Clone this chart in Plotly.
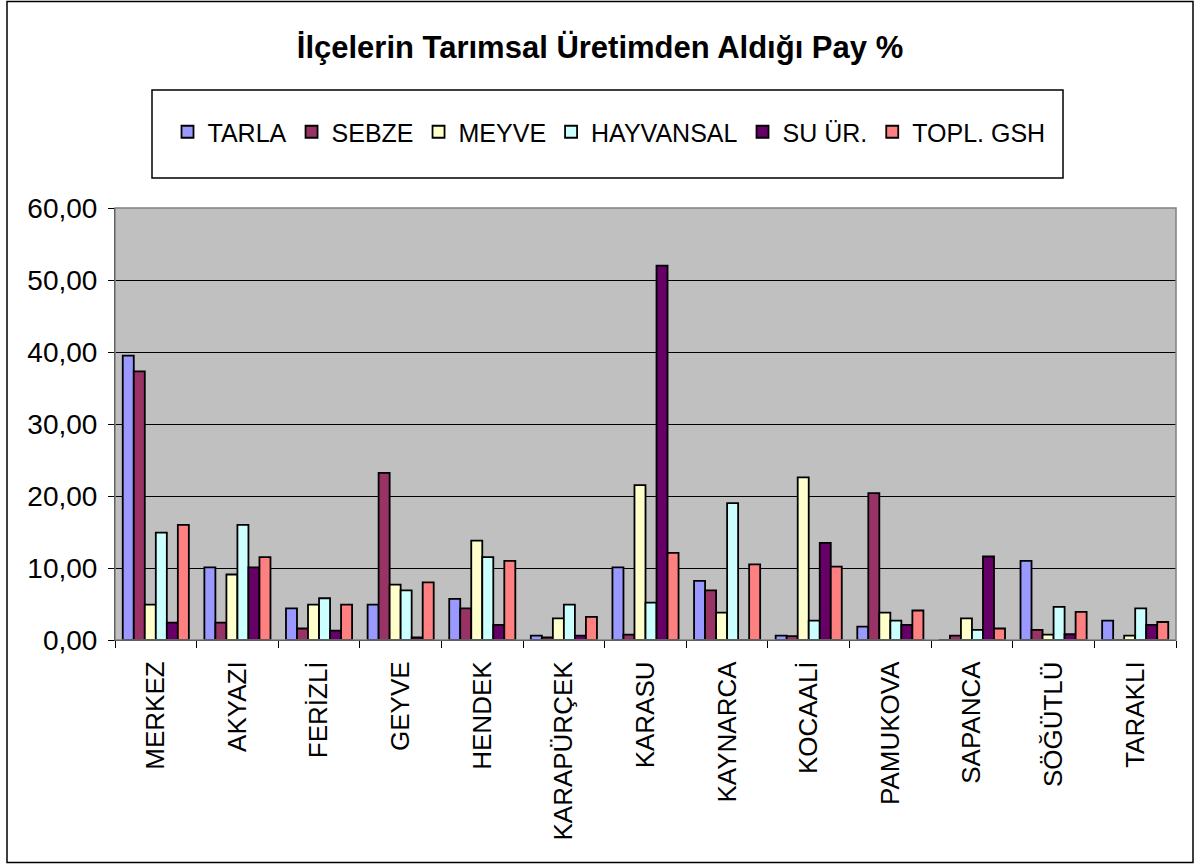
import plotly.graph_objects as go

districts = ["MERKEZ", "AKYAZI", "FERİZLİ", "GEYVE", "HENDEK", "KARAPÜRÇEK", "KARASU",
             "KAYNARCA", "KOCAALİ", "PAMUKOVA", "SAPANCA", "SÖĞÜTLÜ", "TARAKLI"]

tarla = [39.5, 10.1, 4.4, 4.9, 5.7, 0.6, 10.1, 8.2, 0.6, 1.85, 0.0, 11.0, 2.7]
sebze = [37.3, 2.4, 1.6, 23.2, 4.4, 0.35, 0.75, 6.9, 0.55, 20.4, 0.6, 1.4, 0.0]
meyve = [4.9, 9.1, 4.9, 7.7, 13.8, 3.0, 21.5, 3.8, 22.6, 3.8, 3.0, 0.75, 0.6]
hayvansal = [14.9, 16.0, 5.8, 6.9, 11.5, 4.9, 5.2, 19.0, 2.7, 2.7, 1.4, 4.6, 4.4]
su_urunleri = [2.4, 10.1, 1.3, 0.35, 2.1, 0.6, 52.0, 0.0, 13.5, 2.1, 11.6, 0.8, 2.1]
toplam_gsh = [16.0, 11.5, 4.9, 8.0, 11.0, 3.2, 12.1, 10.5, 10.2, 4.1, 1.6, 3.9, 2.5]

series_names = ["TARLA", "SEBZE", "MEYVE", "HAYVANSAL", "SU ÜR.", "TOPL. GSH"]
series_values = [tarla, sebze, meyve, hayvansal, su_urunleri, toplam_gsh]
colors = ["#9999FF", "#993366", "#FFFFCC", "#CCFFFF", "#660066", "#FF8080"]

FONT = "Arial, Liberation Sans, sans-serif"

# plot area in pixels (for placing the boxes drawn around it)
W, H = 1200, 864
L, R, T, B = 115, 1176, 208, 640


def px_x(x):
    return (x - L) / (R - L)


def px_y(y):
    return (B - y) / (B - T)


fig = go.Figure()
for name, vals, col in zip(series_names, series_values, colors):
    fig.add_trace(go.Bar(
        x=districts, y=vals, name=name,
        marker=dict(color=col, line=dict(color="black", width=1.8)),
    ))

fig.update_layout(
    width=W, height=H,
    margin=dict(l=L, r=W - R, t=T, b=H - B),
    paper_bgcolor="white",
    plot_bgcolor="#C0C0C0",
    barmode="group",
    bargap=0.19,
    bargroupgap=0,
    separators=",.",
    font=dict(family=FONT, color="black"),
    title=dict(
        text="<b>İlçelerin Tarımsal Üretimden Aldığı Pay %</b>",
        x=0.5, xref="container", xanchor="center",
        y=1 - 47 / H, yref="container", yanchor="middle",
        font=dict(size=31, family=FONT, color="black"),
    ),
    legend=dict(
        orientation="h",
        x=px_x(609), xanchor="center",
        y=px_y(132), yanchor="middle",
        font=dict(size=25, family=FONT),
        bgcolor="rgba(0,0,0,0)",
        itemwidth=30,
    ),
    showlegend=True,
)

fig.update_yaxes(
    range=[0, 60], dtick=10, tickformat=".2f",
    showgrid=True, gridcolor="black", gridwidth=1,
    showline=True, linecolor="black", linewidth=1,
    ticks="outside", ticklen=6, tickcolor="black",
    tickfont=dict(size=28, family=FONT),
    ticklabelstandoff=5,
    zeroline=False,
)
fig.update_xaxes(
    tickangle=-90, tickson="boundaries",
    showline=True, linecolor="black", linewidth=1,
    ticks="outside", ticklen=7, tickcolor="black",
    tickfont=dict(size=26, family=FONT),
    ticklabelstandoff=10,
)

# gray frame of the plot area, legend box and outer chart border
fig.add_shape(type="rect", xref="paper", yref="paper", x0=0, x1=1, y0=0, y1=1,
              line=dict(color="#808080", width=1.5), layer="above")
fig.add_shape(type="rect", xref="paper", yref="paper",
              x0=px_x(152), x1=px_x(1063), y0=px_y(90), y1=px_y(178),
              line=dict(color="black", width=1.5))
fig.add_shape(type="rect", xref="paper", yref="paper",
              x0=px_x(7), x1=px_x(1193), y0=px_y(1.5), y1=px_y(862.5),
              line=dict(color="black", width=1.5))

# the page has a default 8px body margin; drop it so the figure sits at 0,0
fig.write_html(
    "out.html",
    config={"displayModeBar": False},
    post_script="document.body.style.margin = '0';",
)
